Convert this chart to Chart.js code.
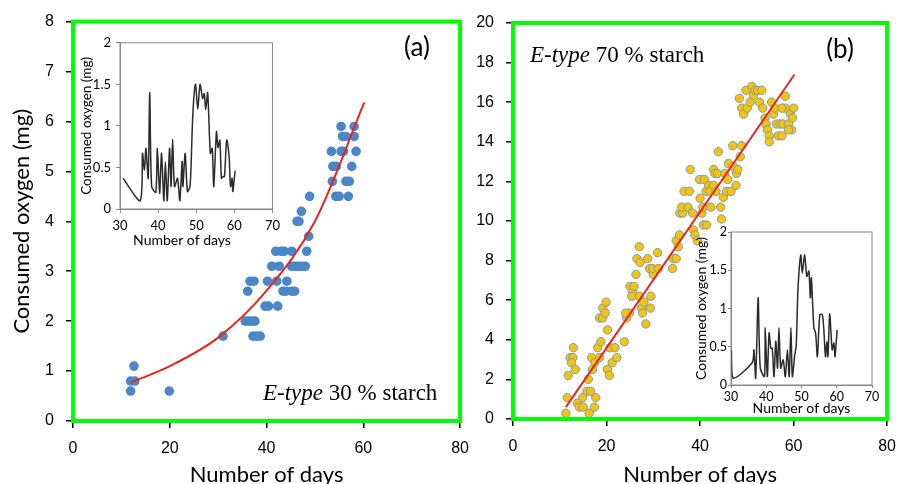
<!DOCTYPE html>
<html><head><meta charset="utf-8">
<script src="https://cdn.jsdelivr.net/npm/chart.js@4.4.0/dist/chart.umd.min.js"></script>
<style>
html,body{margin:0;padding:0;background:#fff;}
#wrap{position:relative;width:899px;height:484px;overflow:hidden;background:#fff;}
canvas{position:absolute;}
</style></head><body>
<div id="wrap">
<canvas id="cA" width="480" height="490" style="left:0;top:0;width:480px;height:490px"></canvas>
<canvas id="cB" width="437" height="490" style="left:470px;top:0;width:437px;height:490px"></canvas>
<canvas id="iA" width="210" height="222" style="left:75px;top:30px;width:210px;height:222px"></canvas>
<canvas id="iB" width="195" height="195" style="left:690px;top:222px;width:195px;height:195px"></canvas>
</div>
<script>
// ---------- DATA ----------
const aDays = [11.9,11.9,12.8,12.6,19.9,31.0,
  35.6,36.3,37.0,37.6, 37.2,38.0,38.7, 36.1,43.4,44.0,45.2,45.8, 36.6,37.4,40.2,42.1,44.2, 39.7,40.4,42.3,
  41.1,42.6,45.2,45.9,46.6,47.3,48.0, 41.9,43.0,43.6,45.2,48.3, 48.7, 46.3,46.7, 47.2, 48.9,54.3,55.0,56.9,
  53.6,56.4,57.1, 53.7,54.4,57.6, 53.4,55.4,55.9,58.5, 55.7,56.4,58.1, 55.4,58.1];
const aOxygen = [0.6,0.8,0.8,1.1,0.6,1.7,
  2.0,2.0,2.0,2.0, 1.7,1.7,1.7, 2.6,2.6,2.6,2.6,2.6, 2.8,2.8,2.8,2.8,2.8, 2.3,2.3,2.3,
  3.1,3.1,3.1,3.1,3.1,3.1,3.1, 3.4,3.4,3.4,3.4,3.4, 3.7, 4.0,4.0, 4.2, 4.5,4.5,4.5,4.5,
  4.8,4.8,4.8, 5.1,5.1,5.1, 5.4,5.4,5.4,5.4, 5.7,5.7,5.7, 5.9,5.9];
const aFitDays = [11.9,20,30,40,50,60.2];
const aFitOxygen = [0.77,1.1,1.67,2.61,4.0,6.38];

const bDays = [11.3,11.6,11.8,12.2,12.8,12.5,12.9,13.3,13.8,14.2,15.0,14.9,15.8,16.6,16.1,16.3,17.4,17.7,16.8,17.0,
  17.5,18.1,18.5,18.8,18.5,19.2,19.2,19.7,19.9,20.2,20.2,20.6,20.7,21.2,21.8,22.2,23.8,24.3,24.9,24.1,
  25.0,25.6,25.9,25.4,26.3,26.5,27.0,27.2,27.0,27.5,27.7,28.0,28.4,28.8,29.2,29.5,29.4,30.0,29.9,30.9,
  31.1,34.1,34.3,34.9,34.9,35.6,35.4,35.7,36.3,36.1,36.6,37.7,37.4,37.9,38.4,38.6,38.9,39.4,39.9,40.0,
  40.4,40.6,40.7,40.9,41.3,41.4,41.8,42.1,42.3,42.9,42.9,43.2,43.7,43.4,43.9,44.4,44.6,45.0,45.3,45.7,
  45.9,46.1,46.6,47.0,47.1,47.7,47.8,48.1,48.6,48.9,48.4,48.9,49.3,49.8,50.1,50.7,51.1,51.4,51.8,52.3,
  52.7,53.2,53.4,53.9,54.1,54.4,54.8,54.8,55.3,55.7,56.0,56.3,57.1,56.7,57.5,57.7,58.2,58.2,58.9,59.3,
  59.8,60.0,59.6,58.9,57.5];
const bOxygen = [0.29,1.08,2.2,3.1,3.1,2.85,3.6,2.5,0.8,0.6,0.6,1.08,1.4,1.4,2.0,0.29,0.6,1.08,3.1,2.5,
  2.85,3.6,3.1,3.9,5.1,5.1,5.6,5.35,5.9,4.5,2.5,2.2,3.6,2.85,3.6,3.1,3.9,5.1,5.35,5.35,
  6.7,6.4,6.7,6.2,7.3,8.1,8.7,7.9,6.2,5.6,5.35,5.9,4.8,8.1,7.6,6.2,5.6,7.3,7.6,8.4,
  7.6,7.6,8.1,8.1,9.0,9.3,8.7,10.4,10.4,10.7,11.5,11.5,10.7,12.6,10.4,9.55,9.3,9.0,12.1,11.15,
  10.4,10.7,9.8,12.1,11.5,9.8,11.8,11.5,10.7,12.6,11.8,12.4,12.4,11.5,13.5,10.7,10.1,11.2,12.4,11.5,
  12.1,12.9,11.5,13.8,12.75,11.8,12.4,12.6,13.25,13.8,16.2,15.7,15.4,16.6,15.7,16.0,16.8,16.35,16.6,16.6,
  16.0,16.6,15.7,15.2,14.9,14.6,14.3,14.0,16.0,15.4,15.7,14.9,14.9,14.3,14.3,14.9,16.3,15.7,14.9,15.4,
  15.2,15.7,14.6,14.6,15.7];
const bFitDays = [11.3,60.2];
const bFitOxygen = [0.6,17.4];

const iaDays = [30.8,35.3,35.9,36.4,36.8,37.4,37.8,38.3,39.4,39.8,40.4,40.9,41.5,41.9,42.4,43.0,43.4,43.8,44.3,45.1,
  45.7,46.3,46.5,47.1,47.7,48.4,49.1,49.8,50.4,51.0,51.7,52.1,52.5,53.0,53.7,54.2,54.6,55.3,55.7,56.2,
  56.6,57.0,57.4,58.0,58.6,59.0,59.4,59.6,60.2];
const iaOxygen = [0.37,0.10,0.67,0.47,0.73,0.37,1.40,0.27,0.20,0.73,0.19,0.67,0.10,0.57,0.10,0.73,0.27,0.84,0.27,0.37,
  0.10,0.57,0.27,0.67,0.21,0.28,1.13,1.50,1.20,1.50,1.33,1.39,1.20,1.40,0.67,0.73,0.27,0.93,0.74,0.83,
  0.37,0.39,0.39,0.83,0.65,0.27,0.37,0.21,0.46];

const ibDays = [30.1,30.6,36.0,36.5,37.0,37.7,38.3,39.5,39.7,40.3,40.8,41.3,41.7,42.2,42.7,43.2,43.6,44.1,44.8,45.4,
  46.0,46.5,47.0,47.4,48.1,48.5,49.0,49.8,50.2,50.9,51.5,52.1,52.5,52.8,53.5,54.0,54.5,55.2,55.9,56.3,
  56.8,57.2,57.5,58.0,58.7,59.2,59.5,60.1];
const ibOxygen = [0.46,0.09,0.29,0.46,0.09,1.14,0.22,0.11,0.75,0.11,0.68,0.48,0.48,0.11,0.57,0.22,0.75,0.22,0.33,0.11,
  0.46,0.11,0.75,0.11,0.40,0.51,1.25,1.70,1.46,1.70,1.42,1.49,1.14,1.40,0.75,0.68,0.37,0.92,0.92,0.75,
  0.37,0.57,0.37,0.93,0.46,0.55,0.37,0.72];

const mainXTicks = {min:0, max:80, step:20};
const aYTicks = {min:0, max:8, step:1};
const bYTicks = {min:0, max:20, step:2};
const insetXTicks = {min:30, max:70, step:10};
const insetYTicks = {min:0, max:2, step:0.5};

// ---------- HELPERS ----------
const pts = (xs, ys) => xs.map((x,i)=>({x:x, y:ys[i]}));
Chart.defaults.animation = false;
Chart.defaults.responsive = false;
Chart.defaults.maintainAspectRatio = false;
Chart.defaults.devicePixelRatio = 1;
Chart.defaults.events = [];
Chart.defaults.plugins.legend.display = false;
Chart.defaults.plugins.tooltip.enabled = false;

function framePlugin(color, width){
  return {id:'frameBox', afterDraw(chart){
    const ctx = chart.ctx; const a = chart.chartArea;
    ctx.save(); ctx.strokeStyle = color; ctx.lineWidth = width;
    ctx.strokeRect(a.left, a.top, a.right - a.left, a.bottom - a.top);
    ctx.restore();
  }};
}
function textPlugin(items){
  return {id:'texts', afterDraw(chart){
    const ctx = chart.ctx;
    ctx.save();
    items.forEach(it=>{
      ctx.fillStyle = '#000';
      ctx.textBaseline = it.baseline || 'alphabetic';
      if (it.parts){
        let x = it.x;
        it.parts.forEach(p=>{
          ctx.font = p.font; ctx.textAlign = 'left';
          ctx.fillText(p.text, x, it.y);
          x += ctx.measureText(p.text).width;
        });
      } else {
        ctx.font = it.font; ctx.textAlign = it.align || 'center';
        ctx.fillText(it.text, it.x, it.y);
      }
    });
    ctx.restore();
  }};
}
function axis(r, o){
  return {
    type:'linear', min:r.min, max:r.max,
    ticks:{stepSize:r.step, color:'#000', font:o.tickFont, padding:o.tickPad, callback:(v)=>String(v)},
    grid:{display:true, drawOnChartArea:false, drawTicks:true, tickLength:o.tickLen, color:o.gridColor, lineWidth:o.gridWidth},
    border:{display:true, color:o.borderColor, width:o.borderWidth},
    title:o.title ? {display:true, text:o.title, font:o.titleFont, color:'#000', padding:o.titlePad} : {display:false},
    afterFit:(s)=>{ if (o.size!==undefined){ if (s.isHorizontal()) s.height=o.size; else s.width=o.size; } }
  };
}
const mainTickFont = {family:'"Liberation Sans", Arial, sans-serif', size:16};
const titleFont = {family:'Lato, "Open Sans", sans-serif', size:22};
const insetTickFont = {family:'Lato, "Open Sans", sans-serif', size:13};
const insetTitleFont = {family:'Lato, "Open Sans", sans-serif', size:13.5};

// ---------- MAIN (a) ----------
new Chart(document.getElementById('cA'), {
  type:'scatter',
  data:{datasets:[
    {type:'line', data:pts(aFitDays,aFitOxygen), borderColor:'#e8261f', borderWidth:2, pointRadius:0, cubicInterpolationMode:'monotone', fill:false, order:0},
    {type:'scatter', data:pts(aDays,aOxygen), backgroundColor:'#4a86c8', borderColor:'#4a86c8', borderWidth:0, pointRadius:4.8, order:1}
  ]},
  options:{
    layout:{padding:{left:0, top:21, right:0, bottom:0}},
    scales:{
      x: axis(mainXTicks, {tickFont:mainTickFont, tickPad:11, tickLen:7, gridColor:'#000', gridWidth:1.5, borderColor:'#000', borderWidth:2,
        title:'Number of days', titleFont:titleFont, titlePad:{top:0,bottom:2}, size:69}),
      y: axis(aYTicks, {tickFont:mainTickFont, tickPad:12, tickLen:7, gridColor:'#000', gridWidth:1.5, borderColor:'#000', borderWidth:2,
        title:'Consumed oxygen (mg)', titleFont:titleFont, titlePad:{top:9,bottom:0}, size:73})
    }
  },
  plugins:[framePlugin('lime', 4), textPlugin([
    {text:'(a)', x:417, y:48, font:'26px Lato, "Open Sans", sans-serif', align:'center', baseline:'middle'},
    {x:263, y:400, parts:[
      {text:'E-type', font:'italic 23px "Liberation Serif", "Times New Roman", serif'},
      {text:' 30 % starch', font:'23px "Liberation Serif", "Times New Roman", serif'}]}
  ])]
});

// ---------- MAIN (b) ----------
new Chart(document.getElementById('cB'), {
  type:'scatter',
  data:{datasets:[
    {type:'line', data:pts(bFitDays,bFitOxygen), borderColor:'#e8261f', borderWidth:2, pointRadius:0, fill:false, order:0},
    {type:'scatter', data:pts(bDays,bOxygen), backgroundColor:'#f5c40c', borderColor:'#7c9bb3', borderWidth:1, pointRadius:4.2, order:1}
  ]},
  options:{
    layout:{padding:{left:0, top:23, right:0, bottom:0}},
    scales:{
      x: axis(mainXTicks, {tickFont:mainTickFont, tickPad:11, tickLen:7, gridColor:'#000', gridWidth:1.5, borderColor:'#000', borderWidth:2,
        title:'Number of days', titleFont:titleFont, titlePad:{top:0,bottom:2}, size:71}),
      y: axis(bYTicks, {tickFont:mainTickFont, tickPad:12, tickLen:7, gridColor:'#000', gridWidth:1.5, borderColor:'#000', borderWidth:2, size:43})
    }
  },
  plugins:[framePlugin('lime', 4), textPlugin([
    {text:'(b)', x:370, y:50, font:'26px Lato, "Open Sans", sans-serif', align:'center', baseline:'middle'},
    {x:60, y:62, parts:[
      {text:'E-type', font:'italic 23px "Liberation Serif", "Times New Roman", serif'},
      {text:' 70 % starch', font:'23px "Liberation Serif", "Times New Roman", serif'}]}
  ])]
});

// ---------- INSET (a) ----------
new Chart(document.getElementById('iA'), {
  type:'scatter',
  data:{datasets:[
    {type:'line', data:pts(iaDays,iaOxygen), borderColor:'#2b2b2b', borderWidth:1.5, pointRadius:0, tension:0.25, fill:false}
  ]},
  options:{
    layout:{padding:{left:0, top:12, right:10, bottom:0}},
    scales:{
      x: axis(insetXTicks, {tickFont:insetTickFont, tickPad:5, tickLen:4, gridColor:'#888', gridWidth:1, borderColor:'#888', borderWidth:1, size:43}),
      y: axis(insetYTicks, {tickFont:insetTickFont, tickPad:5, tickLen:4, gridColor:'#888', gridWidth:1, borderColor:'#888', borderWidth:1,
        title:'Consumed oxygen (mg)', titleFont:insetTitleFont, titlePad:{top:4,bottom:0}, size:45})
    }
  },
  plugins:[framePlugin('#888', 1), textPlugin([
    {text:'Number of days', x:107, y:210, font:'14px Lato, "Open Sans", sans-serif', align:'center', baseline:'middle'}
  ])]
});

// ---------- INSET (b) ----------
new Chart(document.getElementById('iB'), {
  type:'scatter',
  data:{datasets:[
    {type:'line', data:pts(ibDays,ibOxygen), borderColor:'#2b2b2b', borderWidth:1.5, pointRadius:0, tension:0.25, fill:false}
  ]},
  options:{
    layout:{padding:{left:0, top:10, right:13, bottom:0}},
    scales:{
      x: axis(insetXTicks, {tickFont:{family:'Lato, "Open Sans", sans-serif', size:12.5}, tickPad:1, tickLen:3, gridColor:'#888', gridWidth:1, borderColor:'#888', borderWidth:1,
        title:'Number of days', titleFont:{family:'Lato, "Open Sans", sans-serif', size:14}, titlePad:{top:0,bottom:0}, size:32}),
      y: axis(insetYTicks, {tickFont:{family:'Lato, "Open Sans", sans-serif', size:12.5}, tickPad:1, tickLen:3, gridColor:'#888', gridWidth:1, borderColor:'#888', borderWidth:1,
        title:'Consumed oxygen (mg)', titleFont:{family:'Lato, "Open Sans", sans-serif', size:14}, titlePad:{top:3,bottom:0}, size:41})
    }
  },
  plugins:[framePlugin('#888', 1)]
});
</script>
</body></html>
